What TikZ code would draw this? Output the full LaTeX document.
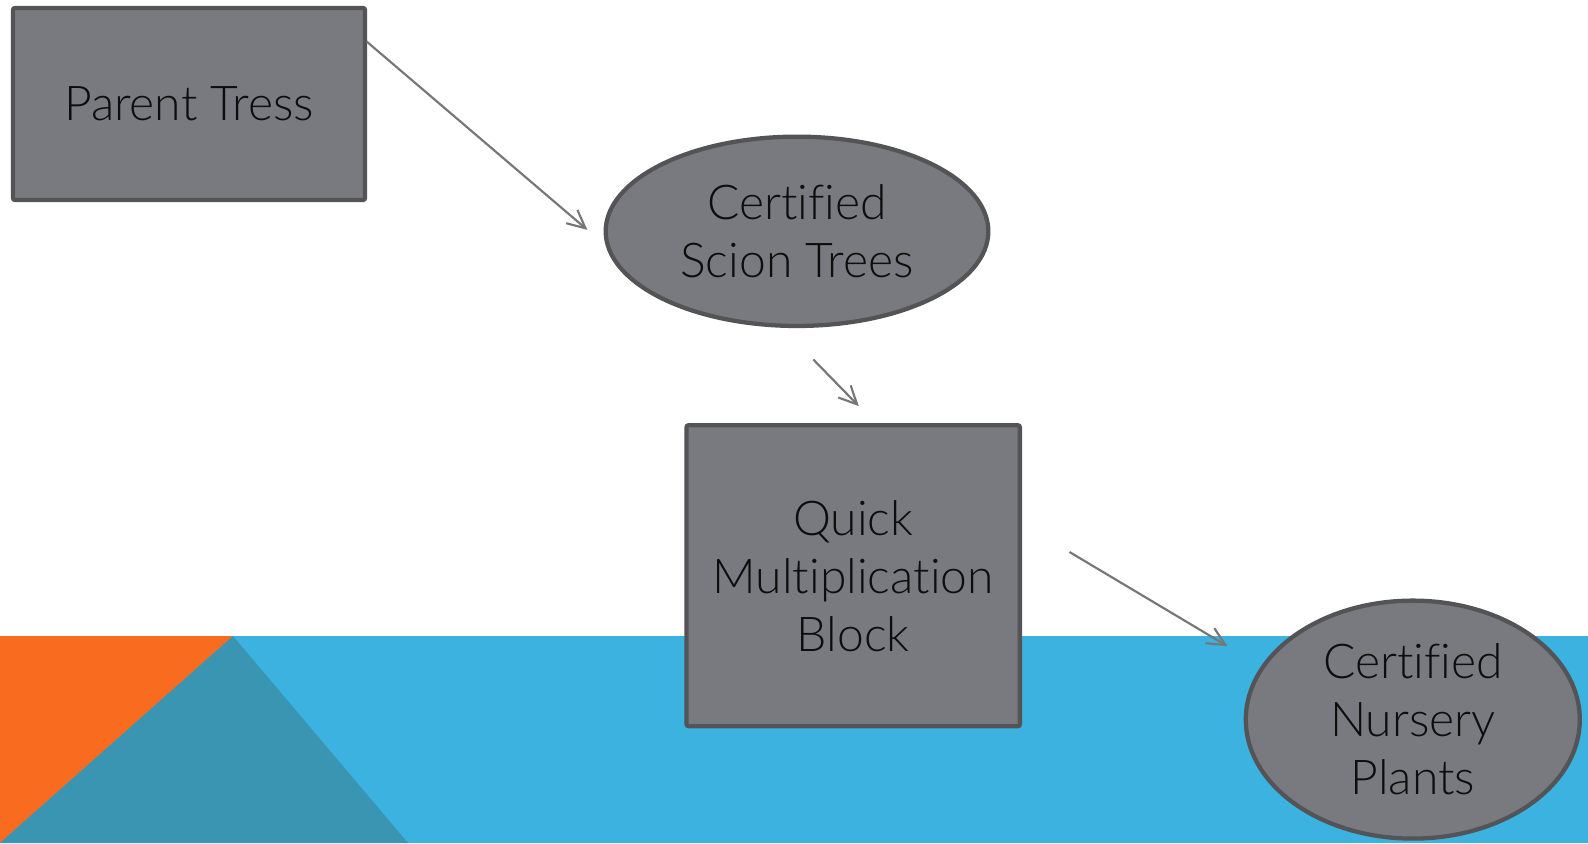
\documentclass[tikz,border=0pt]{standalone}
\usepackage{fontspec}
\IfFontExistsTF{Lato Light}{\setmainfont{Lato Light}[Ligatures={NoCommon,NoContextual}]}{%
  \IfFontExistsTF{Open Sans Light}{\setmainfont{Open Sans Light}}{\setmainfont{Lato}}}
\usetikzlibrary{shapes.geometric,arrows.meta,calc}
\definecolor{boxfill}{HTML}{797A7F}
\definecolor{boxline}{HTML}{545457}
\definecolor{arrowc}{HTML}{767676}
\definecolor{orng}{HTML}{F96B1E}
\definecolor{skyb}{HTML}{3BB2E0}
\definecolor{tealb}{HTML}{3A95B3}
\begin{document}
\begin{tikzpicture}[x=0.75pt,y=-0.75pt,
  basenode/.style={draw=boxline, fill=boxfill, line width=3.2pt, inner sep=0pt,
    align=center, text=black!95, font=\fontsize{36pt}{43.5pt}\selectfont},
  rectnode/.style={basenode, rectangle, rounded corners=1.5pt},
  ellnode/.style={basenode, ellipse},
  flow/.style={draw=arrowc, line width=1.6pt, -{Straight Barb[length=13.5pt,width=13pt,line width=1.6pt]}}]
\useasboundingbox (0,0) rectangle (1588,843);
\fill[white] (0,0) rectangle (1588,843);
% bottom band
\fill[skyb] (0,636) rectangle (1588,843);
\fill[orng] (0,636) -- (233,636) -- (0,843) -- cycle;
\fill[tealb] (233,636) -- (0,843) -- (408,843) -- cycle;
% nodes
\node[rectnode, minimum width=264pt, minimum height=144pt] (pt) at (189,104) {Parent Tress};
\node[ellnode, minimum width=287pt, minimum height=142pt] (cst) at (797,231.3) {Certified\\Scion Trees};
\node[rectnode, minimum width=250pt, minimum height=225.7pt] (qmb) at (853.2,575.7) {Quick\\Multiplication\\Block};
\node[ellnode, minimum width=250.5pt, minimum height=178.5pt] (cnp) at (1412.8,719.6) {Certified\\Nursery\\Plants};
% connectors
\coordinate (a1s) at (366.6,41.5);
\coordinate (a1e) at (587.4,229.9);
\coordinate (a2s) at (813.3,359.5);
\coordinate (a2e) at (858.8,406.1);
\coordinate (a3s) at (1069.5,552);
\coordinate (a3e) at (1227.5,646.2);
\draw[flow] (a1s) -- (a1e);
\draw[flow] (a2s) -- (a2e);
\draw[flow] (a3s) -- (a3e);
\end{tikzpicture}
\end{document}
